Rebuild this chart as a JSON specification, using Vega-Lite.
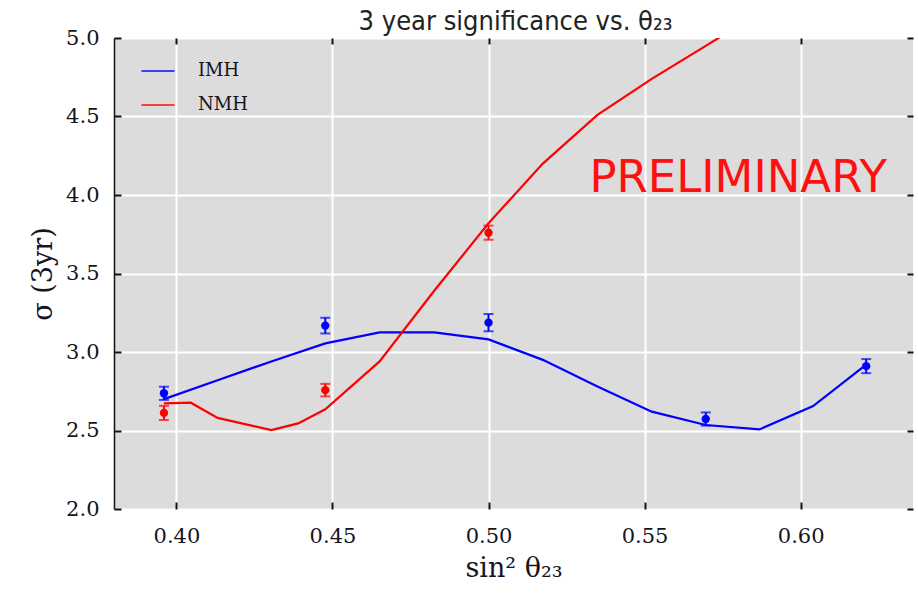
{
  "$schema": "https://vega.github.io/schema/vega-lite/v6.json",
  "width": 799,
  "height": 471,
  "autosize": {"type": "none"},
  "padding": {"left": 114, "top": 38, "right": 5, "bottom": 88},
  "background": "white",
  "config": {
    "view": {"fill": "#dcdcdc", "stroke": null},
    "axis": {
      "gridColor": "white",
      "gridWidth": 2,
      "gridOpacity": 1,
      "tickColor": "#111111",
      "tickWidth": 2,
      "domainColor": "#111111",
      "domainWidth": 1.5,
      "labelFont": "DejaVu Serif",
      "labelFontSize": 21,
      "labelColor": "#15151f",
      "titleFont": "DejaVu Serif",
      "titleFontWeight": "normal",
      "titleFontSize": 27,
      "titleColor": "#15151f"
    }
  },
  "title": {
    "text": "3 year significance vs. θ₂₃",
    "font": "DejaVu Sans Condensed",
    "fontSize": 27,
    "fontWeight": "normal",
    "color": "#222222",
    "anchor": "middle",
    "offset": -9,
    "dx": 2
  },
  "datasets": {
    "curves": [
      {"hierarchy": "IMH", "s2": 0.3960, "sigma": 2.70},
      {"hierarchy": "IMH", "s2": 0.4132, "sigma": 2.82},
      {"hierarchy": "IMH", "s2": 0.4304, "sigma": 2.94},
      {"hierarchy": "IMH", "s2": 0.4477, "sigma": 3.055},
      {"hierarchy": "IMH", "s2": 0.4651, "sigma": 3.125},
      {"hierarchy": "IMH", "s2": 0.4826, "sigma": 3.125},
      {"hierarchy": "IMH", "s2": 0.5000, "sigma": 3.08},
      {"hierarchy": "IMH", "s2": 0.5174, "sigma": 2.95},
      {"hierarchy": "IMH", "s2": 0.5349, "sigma": 2.78},
      {"hierarchy": "IMH", "s2": 0.5523, "sigma": 2.62},
      {"hierarchy": "IMH", "s2": 0.5696, "sigma": 2.535},
      {"hierarchy": "IMH", "s2": 0.5868, "sigma": 2.507},
      {"hierarchy": "IMH", "s2": 0.6040, "sigma": 2.656},
      {"hierarchy": "IMH", "s2": 0.6210, "sigma": 2.92},
      {"hierarchy": "NMH", "s2": 0.3960, "sigma": 2.673},
      {"hierarchy": "NMH", "s2": 0.4046, "sigma": 2.677},
      {"hierarchy": "NMH", "s2": 0.4132, "sigma": 2.58},
      {"hierarchy": "NMH", "s2": 0.4304, "sigma": 2.503},
      {"hierarchy": "NMH", "s2": 0.4390, "sigma": 2.545},
      {"hierarchy": "NMH", "s2": 0.4477, "sigma": 2.635},
      {"hierarchy": "NMH", "s2": 0.4651, "sigma": 2.94},
      {"hierarchy": "NMH", "s2": 0.4826, "sigma": 3.39},
      {"hierarchy": "NMH", "s2": 0.5000, "sigma": 3.82},
      {"hierarchy": "NMH", "s2": 0.5174, "sigma": 4.20},
      {"hierarchy": "NMH", "s2": 0.5349, "sigma": 4.51},
      {"hierarchy": "NMH", "s2": 0.5523, "sigma": 4.74},
      {"hierarchy": "NMH", "s2": 0.5696, "sigma": 4.95},
      {"hierarchy": "NMH", "s2": 0.5868, "sigma": 5.16}
    ],
    "points": [
      {"hierarchy": "IMH", "s2": 0.3960, "sigma": 2.737, "lo": 2.695, "hi": 2.779},
      {"hierarchy": "IMH", "s2": 0.4477, "sigma": 3.168, "lo": 3.118, "hi": 3.218},
      {"hierarchy": "IMH", "s2": 0.5000, "sigma": 3.187, "lo": 3.132, "hi": 3.242},
      {"hierarchy": "IMH", "s2": 0.5696, "sigma": 2.573, "lo": 2.531, "hi": 2.615},
      {"hierarchy": "IMH", "s2": 0.6210, "sigma": 2.910, "lo": 2.865, "hi": 2.955},
      {"hierarchy": "NMH", "s2": 0.3960, "sigma": 2.612, "lo": 2.567, "hi": 2.657},
      {"hierarchy": "NMH", "s2": 0.4477, "sigma": 2.757, "lo": 2.717, "hi": 2.797},
      {"hierarchy": "NMH", "s2": 0.5000, "sigma": 3.760, "lo": 3.715, "hi": 3.805}
    ],
    "notes": [
      {"s2": 0.58, "sigma": 4.11, "text": "PRELIMINARY"}
    ]
  },
  "resolve": {"axis": {"x": "independent", "y": "independent"}},
  "layer": [
    {
      "data": {"name": "curves"},
      "mark": {"type": "line", "strokeWidth": 2.2, "clip": true},
      "encoding": {
        "x": {
          "field": "s2",
          "type": "quantitative",
          "scale": {"domain": [0.38, 0.636], "nice": false, "zero": false},
          "axis": {
            "orient": "bottom",
            "title": "sin² θ₂₃",
            "values": [0.40, 0.45, 0.50, 0.55, 0.60],
            "format": ".2f",
            "domain": false,
            "tickSize": -7,
            "labelPadding": 23,
            "titlePadding": 9
          }
        },
        "y": {
          "field": "sigma",
          "type": "quantitative",
          "scale": {"domain": [2, 5], "nice": false, "zero": false},
          "axis": {
            "orient": "left",
            "title": "σ (3yr)",
            "values": [2.0, 2.5, 3.0, 3.5, 4.0, 4.5, 5.0],
            "format": ".1f",
            "tickSize": -7,
            "labelPadding": 22,
            "titlePadding": 8
          }
        },
        "color": {
          "field": "hierarchy",
          "type": "nominal",
          "scale": {"domain": ["IMH", "NMH"], "range": ["#0000ff", "#ff0000"]},
          "legend": {
            "orient": "none",
            "legendX": 26,
            "legendY": 15,
            "title": null,
            "padding": 0,
            "symbolType": "stroke",
            "symbolSize": 1100,
            "symbolStrokeWidth": 2,
            "labelFont": "DejaVu Serif",
            "labelFontSize": 18,
            "labelColor": "#15151f",
            "labelOffset": 22,
            "rowPadding": 7
          }
        }
      }
    },
    {
      "data": {"name": "points"},
      "mark": {"type": "errorbar", "thickness": 2, "ticks": {"size": 10, "thickness": 2}},
      "encoding": {
        "x": {"field": "s2", "type": "quantitative", "axis": null},
        "y": {"field": "lo", "type": "quantitative", "axis": null},
        "y2": {"field": "hi"},
        "color": {"field": "hierarchy", "type": "nominal"}
      }
    },
    {
      "data": {"name": "points"},
      "mark": {"type": "circle", "size": 70, "opacity": 1},
      "encoding": {
        "x": {"field": "s2", "type": "quantitative", "axis": null},
        "y": {"field": "sigma", "type": "quantitative", "axis": null},
        "color": {"field": "hierarchy", "type": "nominal"}
      }
    },
    {
      "data": {"name": "notes"},
      "mark": {"type": "text", "font": "DejaVu Sans", "fontSize": 45, "color": "#ff1010", "align": "center", "baseline": "middle"},
      "encoding": {
        "x": {
          "field": "s2",
          "type": "quantitative",
          "axis": {"orient": "top", "title": null, "labels": false, "domain": false, "grid": false, "tickSize": -6, "minExtent": 0, "maxExtent": 0, "values": [0.40, 0.45, 0.50, 0.55, 0.60]}
        },
        "y": {
          "field": "sigma",
          "type": "quantitative",
          "axis": {"orient": "right", "title": null, "labels": false, "domain": false, "grid": false, "tickSize": -6, "minExtent": 0, "maxExtent": 0, "values": [2.0, 2.5, 3.0, 3.5, 4.0, 4.5, 5.0]}
        },
        "text": {"field": "text"}
      }
    }
  ]
}
